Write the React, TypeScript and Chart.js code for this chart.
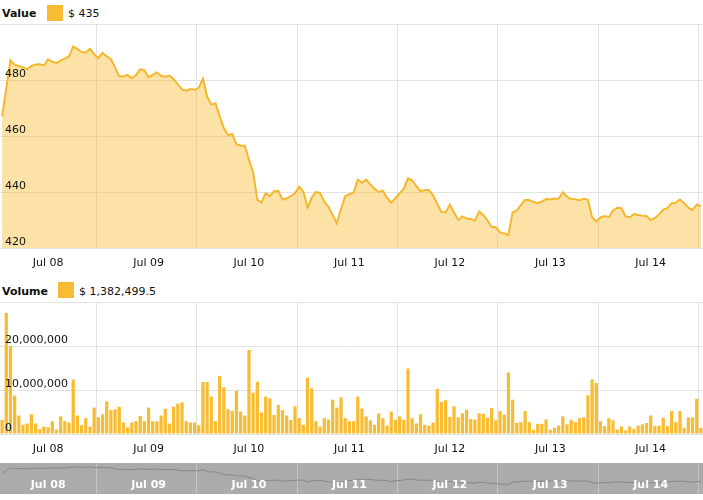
import React, { useEffect, useRef } from 'react';
import { Chart, registerables } from 'chart.js';

Chart.register(...registerables);

const monthName = 'Jul';
const firstDay = 8;
const firstHour = 1;

const values = [
  467, 477, 487, 485.5, 485, 484.5, 483.8, 485, 485.5, 485.6,
  485.2, 487.4, 486.5, 486, 487, 487.6, 488.5, 492, 491, 490,
  489.8, 491.2, 489.2, 487.8, 489.7, 488.5, 487.4, 484.5, 481.3, 481.3,
  481.8, 480.6, 481.8, 483.8, 483.5, 481, 481.8, 482.7, 481.5, 481.2,
  481.6, 480.3, 478.4, 476.6, 476.2, 476.8, 476.5, 477.2, 480.5, 474,
  471.2, 471.7, 467, 462.8, 460.3, 460.7, 457, 456.6, 456.5, 451.5,
  447, 437.2, 436.3, 439.6, 438.5, 440.3, 440.4, 437.3, 437.7, 438.5,
  439.6, 441.9, 440.1, 434.4, 438, 440, 439.6, 436.6, 434.7, 431.8,
  428.8, 434, 438.5, 439.2, 439.8, 444.4, 443.3, 444.4, 442.7, 441.2,
  440, 440.5, 437.9, 436.2, 437.8, 439.5, 441.2, 444.9, 444.2, 442.1,
  440.3, 440.7, 440.7, 438.8, 435.7, 432.9, 432.7, 435.5, 432.7, 430,
  431.3, 430.5, 430.4, 429.8, 433, 431.8, 429.8, 427.6, 427.4, 425.6,
  425.2, 424.6, 432.7, 433.4, 435.4, 437.1, 437.1, 436.4, 436, 436.6,
  437.5, 437.4, 437.6, 437.7, 439.9, 438.3, 437.5, 437.4, 437.1, 437.6,
  437.2, 431, 429.5, 430.9, 431.4, 431, 433.4, 434.4, 434.2, 431.3,
  431, 432.1, 431.8, 431.5, 431.4, 430, 430.7, 432, 433.7, 434.2,
  436, 436.2, 437.3, 436, 434.4, 433.6, 435.5, 435,
];

const volumes = [
  3.2e6, 27.5e6, 20e6, 8.7e6, 4.2e6, 2.1e6, 2.4e6, 4.5e6, 2.4e6, 1.1e6,
  1.7e6, 1.5e6, 2.9e6, 1.0e6, 4.0e6, 2.9e6, 2.6e6, 12.4e6, 4.2e6, 2.0e6,
  3.6e6, 1.7e6, 6.0e6, 3.8e6, 4.5e6, 7.4e6, 5.4e6, 5.6e6, 6.2e6, 2.6e6,
  1.5e6, 2.6e6, 2.9e6, 4.1e6, 2.9e6, 6.0e6, 2.9e6, 2.9e6, 4.2e6, 5.7e6,
  2.4e6, 6.2e6, 6.9e6, 7.2e6, 2.9e6, 2.6e6, 2.6e6, 2.0e6, 11.8e6, 11.8e6,
  8.5e6, 2.9e6, 13.2e6, 10.6e6, 5.7e6, 5.3e6, 9.8e6, 5.1e6, 4.2e6, 19.1e6,
  9.4e6, 11.9e6, 4.9e6, 8.5e6, 8.1e6, 4.3e6, 6.6e6, 5.4e6, 4.2e6, 3.2e6,
  6.3e6, 3.6e6, 2.1e6, 12.8e6, 10.4e6, 2.9e6, 1.7e6, 3.6e6, 3.3e6, 7.8e6,
  6.0e6, 8.3e6, 3.6e6, 2.9e6, 2.9e6, 8.5e6, 5.8e6, 4.0e6, 3.1e6, 2.1e6,
  4.7e6, 3.6e6, 1.9e6, 5.1e6, 3.2e6, 4.0e6, 3.2e6, 14.9e6, 3.6e6, 2.4e6,
  4.5e6, 2.1e6, 1.9e6, 2.6e6, 10.3e6, 7.3e6, 7.7e6, 3.9e6, 6.3e6, 3.8e6,
  4.7e6, 5.5e6, 3.4e6, 3.3e6, 4.7e6, 4.6e6, 3.7e6, 5.9e6, 3.1e6, 5.2e6,
  4.4e6, 14.0e6, 7.8e6, 2.5e6, 2.7e6, 5.2e6, 2.7e6, 0.95e6, 2.3e6, 2.3e6,
  3.3e6, 1.0e6, 1.4e6, 1.9e6, 4.0e6, 2.2e6, 3.2e6, 2.7e6, 3.6e6, 3.8e6,
  8.8e6, 12.4e6, 11.6e6, 2.9e6, 1.8e6, 3.6e6, 3.1e6, 1.0e6, 1.7e6, 0.8e6,
  1.7e6, 1.2e6, 1.9e6, 2.2e6, 2.5e6, 4.2e6, 1.8e6, 1.9e6, 3.7e6, 1.8e6,
  5.2e6, 2.7e6, 5.2e6, 1.4e6, 3.8e6, 3.8e6, 8.0e6, 1382499.5,
];

const valueMin = 420;
const valueMax = 500;
const valueStep = 20;
const volumeMin = 0;
const volumeMax = 30000000;
const volumeStep = 10000000;
const navMin = 388;
const navMax = 506;

const hoursOf = values.map((_, i) => (firstHour + i) % 24);
const daysOf = values.map((_, i) => firstDay + Math.floor((firstHour + i) / 24));
const pad2 = (n: number) => String(n).padStart(2, '0');
const times = values.map((_, i) => `${monthName} ${pad2(daysOf[i])} ${pad2(hoursOf[i])}:00`);
const dayLabel = (i: number) => (hoursOf[i] === 12 ? `${monthName} ${pad2(daysOf[i])}` : '');

const ORANGE = '#F8BC33';
const LINE = '#F5B72C';
const FILL = 'rgba(248,185,45,0.42)';
const GRID = '#e2e2e2';
const FONT = '"DejaVu Sans", Verdana, sans-serif';

const zeroPadding = (s: any) => {
  s.paddingLeft = 0;
  s.paddingRight = 0;
  s.paddingTop = 0;
  s.paddingBottom = 0;
};

function xScale(padding: number, height: number, gridColor: string, tickColor: string, mirror = false, bold = false) {
  return {
    type: 'category' as const,
    offset: true,
    grid: {
      offset: true,
      drawTicks: false,
      color: (ctx: any) => (ctx.index < hoursOf.length && hoursOf[ctx.index] === 0 ? gridColor : 'rgba(0,0,0,0)'),
      lineWidth: 1,
    },
    border: { display: false },
    ticks: {
      autoSkip: false,
      maxRotation: 0,
      minRotation: 0,
      mirror,
      padding,
      z: 1,
      color: tickColor,
      font: { family: FONT, size: 11, weight: bold ? 'bold' : 'normal' },
      callback: (_v: any, i: number) => dayLabel(i),
    },
    afterFit: (s: any) => {
      s.height = height;
      zeroPadding(s);
    },
  };
}

function yScale(min: number, max: number, step: number, fmt: (v: number) => string) {
  return {
    type: 'linear' as const,
    min,
    max,
    grid: { color: GRID, drawTicks: false },
    border: { display: false },
    ticks: {
      stepSize: step,
      mirror: true,
      padding: 5,
      labelOffset: -6,
      z: 1,
      color: '#111',
      font: { family: FONT, size: 11 },
      callback: (v: any) => (Number(v) >= max ? '' : fmt(Number(v))),
    },
    afterFit: (s: any) => {
      s.width = 0;
      zeroPadding(s);
    },
  };
}

const baseOptions = {
  animation: false as const,
  responsive: false,
  layout: { autoPadding: false, padding: 0 },
  plugins: { legend: { display: false }, tooltip: { enabled: false } },
};

export default function App() {
  const topRef = useRef<HTMLCanvasElement>(null);
  const volRef = useRef<HTMLCanvasElement>(null);
  const navRef = useRef<HTMLCanvasElement>(null);

  useEffect(() => {
    const charts: Chart[] = [];
    charts.push(
      new Chart(topRef.current!, {
        type: 'line',
        data: {
          labels: times,
          datasets: [
            {
              data: values,
              borderColor: LINE,
              backgroundColor: FILL,
              borderWidth: 2,
              fill: 'start',
              pointRadius: 0,
              tension: 0,
            },
          ],
        },
        options: {
          ...baseOptions,
          scales: {
            x: xScale(9, 26, GRID, '#111') as any,
            y: yScale(valueMin, valueMax, valueStep, (v) => String(v)) as any,
          },
        } as any,
      })
    );
    charts.push(
      new Chart(volRef.current!, {
        type: 'bar',
        data: {
          labels: times,
          datasets: [
            {
              data: volumes,
              backgroundColor: ORANGE,
              borderWidth: 0,
              barPercentage: 0.78,
              categoryPercentage: 1,
            },
          ],
        },
        options: {
          ...baseOptions,
          scales: {
            x: xScale(9, 26, GRID, '#111') as any,
            y: yScale(volumeMin, volumeMax, volumeStep, (v) => v.toLocaleString('en-US')) as any,
          },
        } as any,
      })
    );
    charts.push(
      new Chart(navRef.current!, {
        type: 'line',
        data: {
          labels: times,
          datasets: [
            {
              data: values,
              borderColor: '#888888',
              borderWidth: 1,
              fill: false,
              pointRadius: 0,
              tension: 0,
            },
          ],
        },
        options: {
          ...baseOptions,
          scales: {
            x: xScale(2.4, 0, '#c4c4c4', '#ffffff', true, true) as any,
            y: { type: 'linear', display: false, min: navMin, max: navMax },
          },
        } as any,
      })
    );
    return () => charts.forEach((c) => c.destroy());
  }, []);

  const lastValue = values[values.length - 1];
  const lastVolume = volumes[volumes.length - 1];

  const legendText: React.CSSProperties = {
    position: 'absolute',
    fontFamily: FONT,
    fontSize: 11,
    lineHeight: '16px',
    color: '#111',
    whiteSpace: 'nowrap',
  };

  return (
    <div style={{ position: 'absolute', left: 0, top: 0, width: 703, height: 500, background: '#fff', overflow: 'hidden' }}>
      <div style={{ ...legendText, left: 2, top: 6, fontWeight: 'bold' }}>Value</div>
      <div style={{ position: 'absolute', left: 47, top: 5, width: 16, height: 16, background: ORANGE }} />
      <div style={{ ...legendText, left: 68, top: 6 }}>{`$ ${lastValue}`}</div>
      <canvas ref={topRef} width={703} height={250} style={{ position: 'absolute', left: 0, top: 24, display: 'block' }} />

      <div style={{ ...legendText, left: 2, top: 284, fontWeight: 'bold' }}>Volume</div>
      <div style={{ position: 'absolute', left: 58, top: 282, width: 16, height: 16, background: ORANGE }} />
      <div style={{ ...legendText, left: 79, top: 284 }}>{`$ ${lastVolume.toLocaleString('en-US', { maximumFractionDigits: 1 })}`}</div>
      <canvas ref={volRef} width={703} height={158} style={{ position: 'absolute', left: 0, top: 302, display: 'block' }} />

      <canvas ref={navRef} width={703} height={31} style={{ position: 'absolute', left: 0, top: 463, display: 'block', background: '#ababab' }} />
    </div>
  );
}
